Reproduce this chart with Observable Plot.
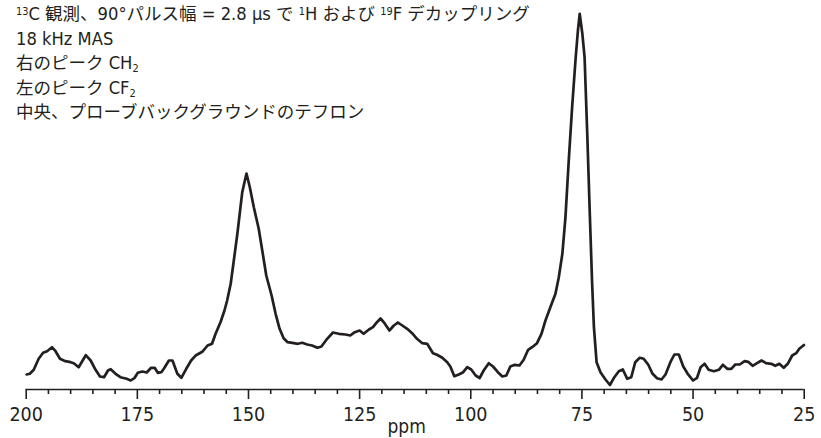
<!DOCTYPE html>
<html>
<head>
<meta charset="utf-8">
<script src="https://cdn.jsdelivr.net/npm/d3@7"></script>
<script src="https://cdn.jsdelivr.net/npm/@observablehq/plot@0.6"></script>
<style>
  body { margin: 0; background: #fff; }
  #wrap { position: relative; width: 821px; height: 438px; }
  #notes {
    position: absolute; left: 16px; top: 2px;
    font-family: "Liberation Sans Narrow", "DejaVu Sans Condensed", "Noto Sans CJK JP", sans-serif;
    font-size: 17.5px; line-height: 24.6px; color: #231f20; white-space: nowrap;
  }
  .lat { font-size: 18.2px; }
  .sup { font-size: 0.6em; vertical-align: 0.5em; line-height: 0; }
  .sub { font-size: 0.6em; vertical-align: -0.25em; line-height: 0; }
</style>
</head>
<body>
<div id="wrap">
  <div id="chart"></div>
  <div id="notes"></div>
</div>
<script>
// Chemical shift (ppm) and signal intensity (arbitrary units)
const ppm = [
  199.9, 199.2, 198.3, 197.2, 196.2, 195.3, 194.2, 193.4, 192.4, 191.2,
  190.0, 189.3, 188.2, 187.4, 186.6, 185.5, 184.4, 183.4, 182.5, 181.6,
  181.0, 179.9, 178.8, 177.4, 176.5, 175.6, 174.9, 173.9, 172.9, 171.9,
  171.1, 170.4, 169.6, 168.9, 167.9, 167.1, 166.0, 165.1, 164.0, 162.9,
  161.8, 160.4, 159.2, 158.2, 157.4, 156.3, 155.4, 154.8, 154.0, 153.3,
  152.5, 151.8, 151.4, 150.9, 150.45, 149.7, 148.8, 147.7, 146.9, 146.0,
  144.8, 143.9, 143.0, 142.1, 141.2, 139.8, 138.9, 137.9, 136.8, 135.7,
  134.5, 133.6, 132.3, 131.0, 129.7, 128.2, 127.1, 126.1, 125.0, 124.1,
  122.9, 122.0, 121.1, 120.3, 119.4, 118.3, 117.3, 116.4, 115.4, 114.3,
  113.2, 112.1, 110.9, 109.8, 108.5, 107.6, 106.4, 105.3, 104.6, 103.7,
  102.7, 101.7, 100.8, 99.9, 98.9, 98.0, 97.1, 95.95, 95.0, 93.9,
  92.9, 92.0, 91.1, 90.1, 89.05, 88.1, 87.1, 86.2, 85.1, 84.1,
  83.2, 82.1, 80.95, 80.2, 79.4, 78.7, 77.96, 77.2, 76.45, 75.9,
  75.5, 74.9, 74.4, 73.8, 73.2, 72.7, 72.3, 71.7, 70.8, 69.7,
  68.7, 67.7, 66.7, 65.8, 64.8, 63.9, 63.0, 62.0, 61.1, 60.1,
  59.1, 58.1, 57.1, 56.2, 55.1, 54.2, 53.2, 52.2, 51.2, 50.0,
  49.1, 48.3, 47.4, 46.5, 45.3, 44.2, 43.3, 42.3, 41.4, 40.5,
  39.5, 38.4, 37.6, 36.6, 35.6, 34.6, 33.6, 32.4, 31.5, 30.6,
  29.6, 28.7, 27.7, 26.8, 26.1, 25.05
];
const intensity = [
  15, 15.7, 19.7, 30.7, 36.7, 38.3, 42.3, 38.3, 30.7, 28.3,
  27.3, 26.3, 22.3, 28.3, 34.3, 29, 19.7, 13, 12.3, 19,
  20.3, 15.7, 12.3, 10.7, 9, 11.7, 16.7, 18, 17, 21.7,
  21.7, 16.7, 17.3, 21.7, 29, 29, 15.7, 11.7, 20.7, 29,
  34.3, 37.7, 44, 45.7, 55.7, 67.3, 79, 89, 105.7, 129,
  155.7, 182.3, 197.3, 207.3, 216, 202.3, 182.3, 160.7, 139, 114,
  94, 75.7, 60.7, 51.3, 47.3, 46.3, 45.7, 46.7, 45, 44,
  41.7, 43, 50.7, 57, 55.7, 55, 54, 57.3, 59, 55.7,
  60, 62.3, 67.3, 71, 66.3, 59, 64, 67, 64, 60.7,
  56.3, 50.7, 46.3, 45.7, 36.3, 34.7, 31.7, 27.3, 23, 13.3,
  15, 17.3, 22.3, 20, 14, 11.5, 19, 26.3, 23, 17.3,
  13, 14, 23, 24.7, 24, 29.7, 39.7, 42.3, 46.3, 55.7,
  69, 82.3, 95.7, 112.3, 135.7, 172.3, 229, 282.3, 329, 359,
  375.7, 355.7, 332.3, 255.7, 172.3, 105.7, 62.3, 27.3, 17, 10,
  4.5, 12.3, 18.3, 20, 10.7, 12.3, 27.3, 31.7, 30.7, 25,
  15.7, 11.3, 10, 15, 27.3, 35, 35, 23, 15.7, 9,
  11.7, 22.3, 25.7, 19.7, 18.3, 19.7, 24.7, 20.7, 20.7, 25,
  25, 28.3, 27.7, 23.7, 26.3, 29, 26.3, 25.7, 23.7, 25.7,
  21.7, 25.7, 34, 36.3, 40.7, 44.5
];
const majorTicks = [200, 175, 150, 125, 100, 75, 50, 25];
const minorTicks = [195, 190, 185, 180, 170, 165, 160, 155, 145, 140, 135, 130,
                    120, 115, 110, 105, 95, 90, 85, 80, 70, 65, 60, 55, 45, 40, 35, 30];
const xLabel = "ppm";
const noteLines = [
  '<span class="lat"><span class="sup">13</span>C </span>観測、<span class="lat">90°</span>パルス幅<span class="lat"> = 2.8 µs </span>で<span class="lat"> <span class="sup">1</span>H </span>および<span class="lat"> <span class="sup">19</span>F </span>デカップリング',
  '<span class="lat">18 kHz MAS</span>',
  '右のピーク<span class="lat"> CH<span class="sub">2</span></span>',
  '左のピーク<span class="lat"> CF<span class="sub">2</span></span>',
  '中央、プローブバックグラウンドのテフロン'
];

const data = ppm.map((p, i) => ({ppm: p, intensity: intensity[i]}));
const ink = "#231f20";

const chart = Plot.plot({
  width: 821,
  height: 438,
  marginLeft: 25.7,
  marginRight: 17.3,
  marginTop: 13,
  marginBottom: 49,
  style: {
    fontFamily: '"Liberation Sans Narrow", "DejaVu Sans Condensed", sans-serif',
    fontSize: "19px",
    color: ink,
    background: "#fff"
  },
  x: { domain: [200, 25] },
  y: { domain: [0, 376], axis: null },
  marks: [
    Plot.ruleY([0], { stroke: ink, strokeWidth: 1.6 }),
    Plot.axisX({ ticks: majorTicks, tickSize: 10, tickPadding: 8, strokeWidth: 1.6,
                 tickFormat: d => String(d), label: null, fontSize: 19.5 }),
    Plot.axisX({ ticks: minorTicks, tickSize: 5, strokeWidth: 1.6,
                 tickFormat: () => "", label: null }),
    Plot.line(data, { x: "ppm", y: "intensity", stroke: ink, strokeWidth: 2.7,
                      strokeLinejoin: "round", strokeLinecap: "round" }),
    Plot.text([xLabel], { frameAnchor: "bottom", dx: -8.5, dy: 43, text: d => d,
                          fontSize: 19, fill: ink })
  ]
});
document.getElementById("chart").appendChild(chart);
document.getElementById("notes").innerHTML = noteLines.map(l => `<div>${l}</div>`).join("");
</script>
</body>
</html>
